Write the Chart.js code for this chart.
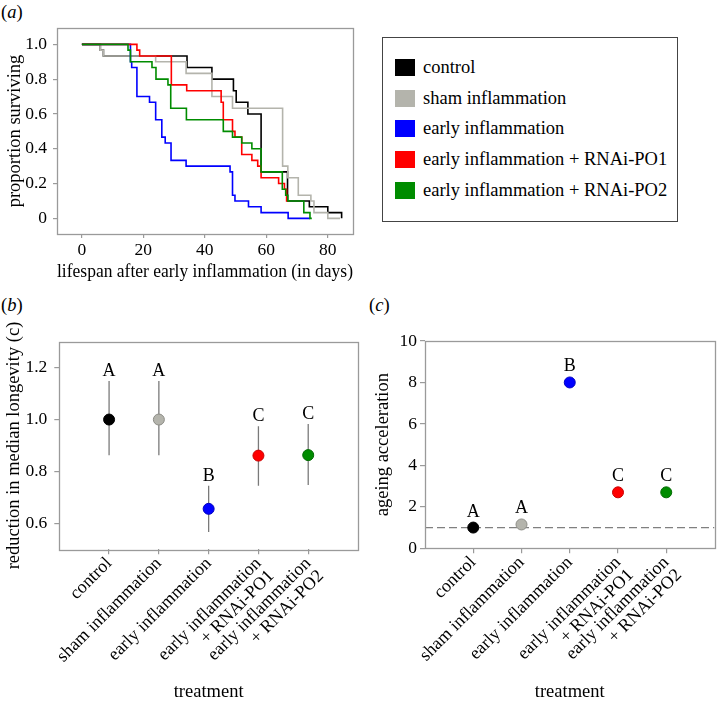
<!DOCTYPE html>
<html><head><meta charset="utf-8">
<script src="https://cdn.jsdelivr.net/npm/chart.js@4.4.0/dist/chart.umd.min.js"></script>
<style>
html,body{margin:0;padding:0;background:#fff;width:721px;height:702px;overflow:hidden;position:relative;font-family:"Liberation Serif","Times New Roman",serif;}
canvas{position:absolute;}
.plab{position:absolute;font-size:18.5px;line-height:18px;color:#000;}
#legend{position:absolute;left:382px;top:37px;width:296px;height:185px;border:1px solid #444;box-sizing:border-box;}
.li{position:absolute;left:12px;height:20px;font-size:18.5px;line-height:20px;white-space:nowrap;color:#000;}
.sw{display:inline-block;width:20px;height:17px;vertical-align:-3px;margin-right:8px;}
</style></head><body>
<div class="plab" style="left:1px;top:3px">(<i>a</i>)</div>
<div class="plab" style="left:1px;top:296px">(<i>b</i>)</div>
<div class="plab" style="left:369px;top:296px">(<i>c</i>)</div>
<div id="legend"></div>
<canvas id="cA" width="370" height="290" style="left:0;top:0;width:370px;height:290px"></canvas>
<canvas id="cB" width="365" height="385" style="left:0;top:320px;width:365px;height:385px"></canvas>
<canvas id="cC" width="356" height="385" style="left:365px;top:320px;width:356px;height:385px"></canvas>
<script>
// ---------- data ----------
const seriesNames = ['control','sham inflammation','early inflammation','early inflammation + RNAi-PO1','early inflammation + RNAi-PO2'];
const seriesColors = ['#000000','#b4b4ac','#0000ff','#ff0000','#008c00'];
const pointBorders = ['#000000','#8c8c86','#0000c0','#c80000','#006a00'];

// panel (a): Kaplan-Meier survival steps (day, proportion surviving)
const controlDays = [0,6,7,34.2,42.3,49.3,50.2,54,58.3,66.9,74,80,84.5];
const controlSurv = [1,0.967,0.933,0.867,0.8,0.733,0.667,0.6,0.267,0.1,0.067,0.033,0];
const shamDays = [0,6,7,24,33.9,42.3,49,65.3,67,70.4,74.5,75.5,80,84];
const shamSurv = [1,0.967,0.933,0.9,0.833,0.7,0.633,0.3,0.233,0.133,0.1,0.033,0,0];
const earlyDays = [0,15.8,16.2,17.9,22,24,26,27.1,29,33.9,48.2,49,49.8,54.2,58.3,67.1,74.2];
const earlySurv = [1,0.9,0.867,0.7,0.667,0.567,0.467,0.433,0.333,0.3,0.267,0.133,0.1,0.067,0.033,0,0];
const po1Days = [0,17.9,18.8,29.1,34.1,45.3,46,49,49.8,52,55.3,57.2,58.3,64,65.9,66.6,67.3];
const po1Surv = [1,0.967,0.933,0.767,0.733,0.667,0.567,0.5,0.467,0.367,0.333,0.3,0.233,0.2,0.167,0.1,0.1];
const po2Days = [0,15,15.8,22.8,24.1,28,28.9,34,46,49,52,55.3,58.3,65.2,66.3,67,72.2,74.2,74.8];
const po2Surv = [1,0.967,0.9,0.867,0.8,0.767,0.633,0.567,0.5,0.467,0.433,0.4,0.267,0.167,0.133,0.1,0.033,0,0];
const dayTicks = [0,20,40,60,80];
const survTicks = [0,0.2,0.4,0.6,0.8,1.0];

// panels (b) and (c)
const treatments = ['control','sham inflammation','early inflammation',['early inflammation','+ RNAi-PO1'],['early inflammation','+ RNAi-PO2']];
const medianReduction = [1.0,1.0,0.656,0.861,0.863];
const ciLow = [0.862,0.862,0.567,0.745,0.748];
const ciHigh = [1.149,1.149,0.745,0.974,0.983];
const lettersB = ['A','A','B','C','C'];
const reductionTicks = [0.6,0.8,1.0,1.2];
const ageingAcceleration = [1.0,1.15,8.0,2.7,2.7];
const lettersC = ['A','A','B','C','C'];
const accelTicks = [0,2,4,6,8,10];
const referenceLevel = 1;

// ---------- helpers ----------
const FONT = "'Liberation Serif','Times New Roman',serif";
const AXIS = '#9a9a9a';
Chart.defaults.font.family = FONT;
Chart.defaults.color = '#000';

const framePlugin = {
  id:'frame',
  afterDatasetsDraw(chart){
    const a = chart.chartArea, ctx = chart.ctx;
    ctx.save(); ctx.strokeStyle = AXIS; ctx.lineWidth = 1.3;
    ctx.strokeRect(Math.round(a.left)+0.5, Math.round(a.top)+0.5, Math.round(a.right-a.left), Math.round(a.bottom-a.top));
    ctx.restore();
  }
};
function lettersPlugin(letters, yvals, gap){
  return {
    id:'groupLetters',
    afterDatasetsDraw(chart){
      const ctx = chart.ctx, xs = chart.scales.x, ys = chart.scales.y;
      ctx.save(); ctx.font = "18px " + FONT; ctx.fillStyle = '#000';
      ctx.textAlign = 'center'; ctx.textBaseline = 'alphabetic';
      letters.forEach((L,i)=>ctx.fillText(L, xs.getPixelForValue(i+1), ys.getPixelForValue(yvals[i]) - gap));
      ctx.restore();
    }
  };
}
function fixedTicks(arr){ return s => { s.ticks = arr.map(v=>({value:v})); }; }
const gridOut = {drawOnChartArea:false, drawTicks:true, tickLength:5, color:AXIS, lineWidth:1.2};
const titleFont = {family:FONT, size:18.5};
const tickFont = {family:FONT, size:17.5};
const baseOpts = {responsive:false, animation:false, events:[], plugins:{legend:{display:false}, tooltip:{enabled:false}}};

// ---------- legend ----------
const legendEl = document.getElementById('legend');
const legendY = [19, 50, 80, 111, 142];
seriesNames.forEach((n,i)=>{
  const d = document.createElement('div'); d.className='li'; d.style.top = legendY[i]+'px';
  d.innerHTML = '<span class="sw" style="background:'+seriesColors[i]+'"></span>'+n;
  legendEl.appendChild(d);
});

// ---------- panel (a) ----------
const survival = [[controlDays,controlSurv],[shamDays,shamSurv],[earlyDays,earlySurv],[po1Days,po1Surv],[po2Days,po2Surv]];
new Chart(document.getElementById('cA'), {
  type:'line',
  data:{datasets: survival.map((s,i)=>({
    label: seriesNames[i],
    data: s[0].map((d,j)=>({x:d, y:s[1][j]})),
    borderColor: seriesColors[i], borderWidth:1.6, stepped:'before', pointRadius:0, fill:false, order:5-i
  }))},
  options:Object.assign({}, baseOpts, {
    layout:{padding:{top:28,right:17,left:0,bottom:0}},
    scales:{
      x:{type:'linear', min:-8.1, max:88.2, afterBuildTicks:fixedTicks(dayTicks), afterFit:s=>{s.height=56;},
         ticks:{font:tickFont, color:'#000', padding:1.5, maxRotation:0, autoSkip:false, callback:v=>String(v)},
         grid:Object.assign({}, gridOut, {tickLength:4}), border:{display:false},
         title:{display:true, text:'lifespan after early inflammation (in days)', font:titleFont, color:'#000', padding:{top:0,bottom:7}}},
      y:{type:'linear', min:-0.09, max:1.094, afterBuildTicks:fixedTicks(survTicks), afterFit:s=>{s.width=57;},
         ticks:{font:tickFont, color:'#000', padding:6, autoSkip:false, callback:v=>v===0?'0':v.toFixed(1)},
         grid:Object.assign({}, gridOut, {tickLength:4}), border:{display:false},
         title:{display:true, text:'proportion surviving', font:titleFont, color:'#000', padding:{top:4,bottom:0}}}
    }
  }),
  plugins:[framePlugin]
});

// ---------- panel (b) ----------
const errData = [];
ciLow.forEach((lo,i)=>{ errData.push({x:i+1,y:lo},{x:i+1,y:ciHigh[i]},{x:i+1.5,y:null}); });
function catScale(height){
  return {type:'linear', min:0, max:6, afterBuildTicks:fixedTicks([1,2,3,4,5]), afterFit:s=>{s.height=height;},
    ticks:{font:{family:FONT, size:18, lineHeight:1.0}, color:'#000', padding:0, minRotation:45, maxRotation:45, autoSkip:false,
           callback:v=>treatments[Math.round(v)-1]},
    grid:gridOut, border:{display:false},
    title:{display:true, text:'treatment', font:titleFont, color:'#000', padding:{top:0,bottom:2}}};
}
new Chart(document.getElementById('cB'), {
  type:'scatter',
  data:{datasets:[
    {label:'95% CI', data:errData, showLine:true, spanGaps:false, borderColor:'#7a7a7a', borderWidth:1.3, pointRadius:0, order:2},
    {label:'reduction in median longevity', data:medianReduction.map((v,i)=>({x:i+1,y:v})),
     pointRadius:5.5, pointBackgroundColor:seriesColors, pointBorderColor:pointBorders, pointBorderWidth:1, order:1}
  ]},
  options:Object.assign({}, baseOpts, {
    layout:{padding:{top:21.7,right:7,left:0,bottom:0}},
    scales:{
      x:catScale(155.7),
      y:{type:'linear', min:0.5, max:1.3, afterBuildTicks:fixedTicks(reductionTicks), afterFit:s=>{s.width=59.3;},
         ticks:{font:tickFont, color:'#000', padding:7, autoSkip:false, callback:v=>v.toFixed(1)},
         grid:gridOut, border:{display:false},
         title:{display:true, text:'reduction in median longevity (c)', font:titleFont, color:'#000', padding:{top:3,bottom:0}}}
    }
  }),
  plugins:[framePlugin, lettersPlugin(lettersB, ciHigh, 5)]
});

// ---------- panel (c) ----------
new Chart(document.getElementById('cC'), {
  type:'scatter',
  data:{datasets:[
    {label:'reference', data:[{x:0,y:referenceLevel},{x:6,y:referenceLevel}], showLine:true, borderColor:'#808080', borderWidth:1.2, borderDash:[8,4], pointRadius:0, order:2},
    {label:'ageing acceleration', data:ageingAcceleration.map((v,i)=>({x:i+1,y:v})),
     pointRadius:5.5, pointBackgroundColor:seriesColors, pointBorderColor:pointBorders, pointBorderWidth:1, order:1}
  ]},
  options:Object.assign({}, baseOpts, {
    layout:{padding:{top:21,right:1.5,left:0,bottom:0}},
    scales:{
      x:catScale(156.7),
      y:{type:'linear', min:0, max:10, afterBuildTicks:fixedTicks(accelTicks), afterFit:s=>{s.width=60;},
         ticks:{font:tickFont, color:'#000', padding:3, autoSkip:false, callback:v=>String(v)},
         grid:gridOut, border:{display:false},
         title:{display:true, text:'ageing acceleration', font:titleFont, color:'#000', padding:{top:7,bottom:0}}}
    }
  }),
  plugins:[framePlugin, lettersPlugin(lettersC, ageingAcceleration, 11)]
});
</script>
</body></html>
